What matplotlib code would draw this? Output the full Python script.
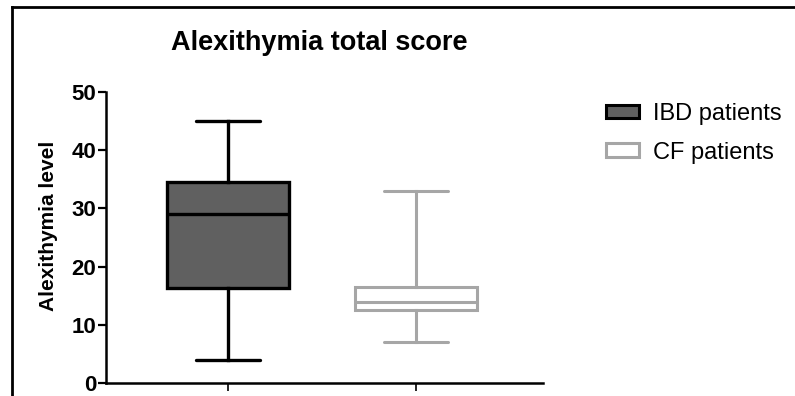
import matplotlib.pyplot as plt
from matplotlib.patches import Patch
from matplotlib.lines import Line2D

plt.rcParams['font.family'] = ['Liberation Sans', 'DejaVu Sans']

# box statistics
groups = ['IBD patients', 'CF patients']
whislo = [4, 7]
q1 = [16.3, 12.5]
med = [29, 13.9]
q3 = [34.6, 16.5]
whishi = [45, 33]
y_ticks = [0, 10, 20, 30, 40, 50]

face_colors = ['#606060', 'white']
edge_colors = ['black', '#a6a6a6']

fig = plt.figure(figsize=(7.95, 3.96), dpi=100)
ax = fig.add_axes([106 / 795, 13 / 396, (543 - 106) / 795, (383 - 92) / 396])

stats = []
for i, g in enumerate(groups):
    stats.append({'label': g, 'whislo': whislo[i], 'q1': q1[i], 'med': med[i],
                  'q3': q3[i], 'whishi': whishi[i], 'fliers': []})

for i, s in enumerate(stats):
    ec = edge_colors[i]
    lw = 2.4 if i == 0 else 2.2
    ax.bxp([s], positions=[i + 1], widths=0.654, patch_artist=True,
           showfliers=False,
           boxprops=dict(facecolor=face_colors[i], edgecolor=ec, linewidth=lw),
           medianprops=dict(color=ec, linewidth=lw),
           whiskerprops=dict(color=ec, linewidth=lw),
           capprops=dict(color=ec, linewidth=lw, solid_capstyle='round'),
           capwidths=0.34)

ax.set_xlim(1 - (228 - 106) / 188, 2 + (543 - 416) / 188)
ax.set_ylim(0, 50)
ax.set_yticks(y_ticks)
ax.set_xticks([1, 2])
ax.set_xticklabels([])
ax.tick_params(axis='y', length=6, width=1.6, labelsize=16, direction='out', pad=1)
ax.tick_params(axis='x', length=6, width=1.2, direction='out')
for lab in ax.get_yticklabels():
    lab.set_fontweight('bold')
for sp in ['top', 'right']:
    ax.spines[sp].set_visible(False)
for sp in ['left', 'bottom']:
    ax.spines[sp].set_linewidth(1.8)

ax.set_ylabel('Alexithymia level', fontsize=15, fontweight='bold')
ax.yaxis.set_label_coords((58 - 106) / 437, (383 - 226) / 291)
fig.text(319 / 795, 1 - 43 / 396, 'Alexithymia total score', ha='center', va='center',
         fontsize=19.5, fontweight='bold')

handles = [Patch(facecolor=face_colors[i], edgecolor=edge_colors[i], linewidth=2.2)
           for i in range(len(groups))]
fig.legend(handles, groups, loc='upper left', bbox_to_anchor=(606 / 795, 1 - 103 / 396),
           frameon=False, fontsize=17, handlelength=1.4, handleheight=0.5,
           handletextpad=0.6, labelspacing=0.7, borderaxespad=0, borderpad=0)

# figure border (left and top)
fig.add_artist(Line2D([12 / 795, 12 / 795], [0, 1 - 7 / 396], color='black', lw=2,
                      transform=fig.transFigure))
fig.add_artist(Line2D([12 / 795, 1], [1 - 7 / 396, 1 - 7 / 396], color='black', lw=2,
                      transform=fig.transFigure))

fig.savefig('out.png', dpi=100)
